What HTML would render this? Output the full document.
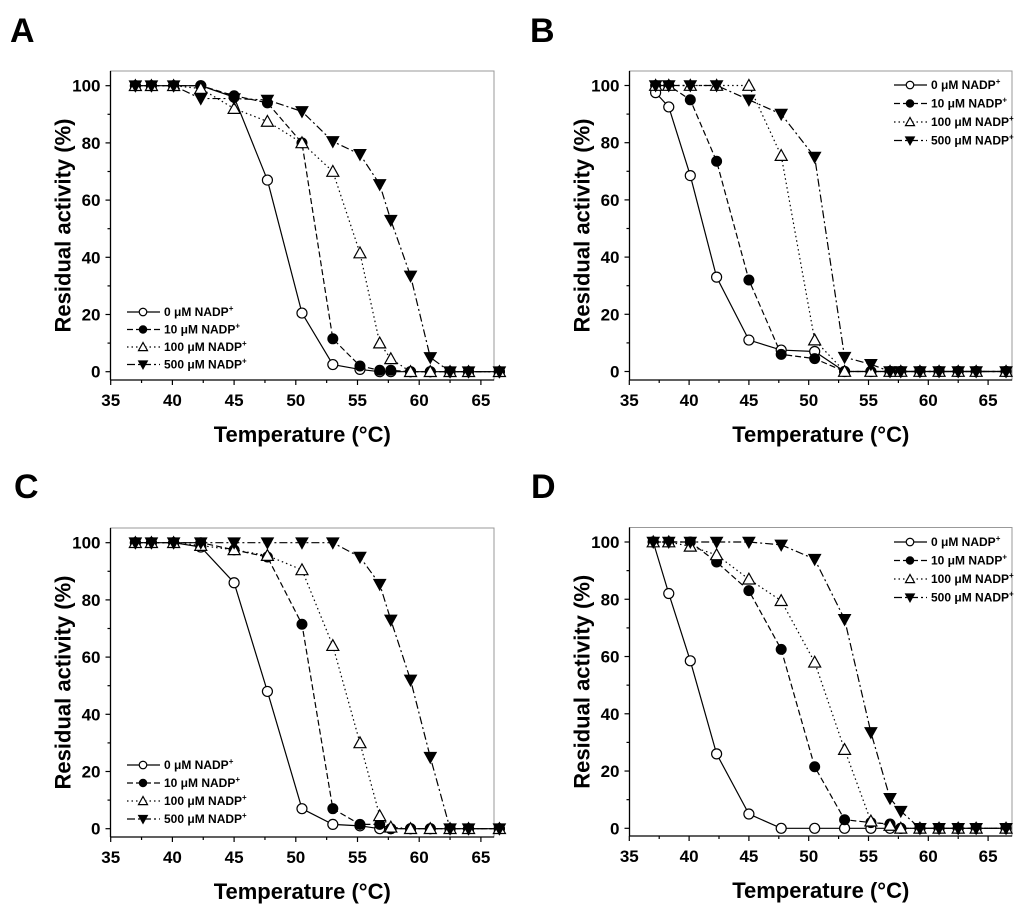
<!DOCTYPE html>
<html><head><meta charset="utf-8"><style>
html,body{margin:0;padding:0;background:#fff;}
svg{display:block;font-family:"Liberation Sans",Arial,sans-serif;}
</style></head><body>
<svg id="fig" width="1024" height="914" viewBox="0 0 1024 914"></svg>
<script>
const temps = [37,38.3,40.1,42.3,45,47.7,50.5,53,55.2,56.8,57.7,59.3,60.9,62.5,64,66.5];
const seriesNames = ["0 μM NADP","10 μM NADP","100 μM NADP","500 μM NADP"];
const xTicks = [35,40,45,50,55,60,65];
const yTicks = [0,20,40,60,80,100];
const a0 = [100,100,100,100,96,67,20.5,2.5,0.8,0,0,0,0,0,0,0];
const a10 = [100,100,100,100,96.5,94,80,11.5,2,0.5,0.5,0,0,0,0,0];
const a100 = [100,100,100,99,92,87.5,80,70,41.5,10,4.5,0,0,0,0,0];
const a500 = [100,100,100,95.5,95.5,95,91,80.5,76,65.5,53,33.5,5,0,0,0];
const bTemps = [37.2,38.3,40.1,42.3,45,47.7,50.5,53,55.2,56.8,57.7,59.3,60.9,62.5,64,66.5];
const b0 = [97.5,92.5,68.5,33,11,7.5,7,0,0,0,0,0,0,0,0,0];
const b10 = [100,100,95,73.5,32,6,4.5,0,0,0,0,0,0,0,0,0];
const b100 = [100,100,100,100,100,75.5,11,0,0,0,0,0,0,0,0,0];
const b500 = [100,100,100,100,95,90,75,5,2.5,0,0,0,0,0,0,0];
const c0 = [100,100,100,98.5,86,48,7,1.5,1,0,0,0,0,0,0,0];
const c10 = [100,100,100,100,97.5,95,71.5,7,1.5,1.5,0,0,0,0,0,0];
const c100 = [100,100,100,99,97.5,95.5,90.5,64,30,4.5,0.5,0,0,0,0,0];
const c500 = [100,100,100,100,100,100,100,100,95,85.5,73,52,25,0,0,0];
const d0 = [100,82,58.5,26,5,0,0,0,0,0,0,0,0,0,0,0];
const d10 = [100,100,100,93,83,62.5,21.5,3,2,1.5,0,0,0,0,0,0];
const d100 = [100,100,98.5,95.5,87,79.5,58,27.5,2.5,1,0,0,0,0,0,0];
const d500 = [100,100,100,100,100,99,94,73,33.5,10.5,6,0,0,0,0,0];

const NS="http://www.w3.org/2000/svg";
const svg=document.getElementById('fig');
function mk(tag,attrs,parent){const e=document.createElementNS(NS,tag);for(const k in attrs)e.setAttribute(k,attrs[k]);(parent||svg).appendChild(e);return e;}
const dashes=["none","6,3","1.5,3","8,3,2,3"];

function marker(g,kind,x,y,s){
  let e;
  if(kind===0){e=mk('circle',{cx:x,cy:y,r:5*s,fill:'#fff',stroke:'#000','stroke-width':1.2},g);}
  else if(kind===1){e=mk('circle',{cx:x,cy:y,r:5*s,fill:'#000',stroke:'#000','stroke-width':1},g);}
  else if(kind===2){const h=6*s;e=mk('polygon',{points:`${x},${y-h} ${x-h},${y+h*0.8} ${x+h},${y+h*0.8}`,fill:'#fff',stroke:'#000','stroke-width':1.2},g);}
  else {const h=6*s;e=mk('polygon',{points:`${x-h},${y-h*0.8} ${x+h},${y-h*0.8} ${x},${y+h}`,fill:'#000',stroke:'#000','stroke-width':1},g);}
  return e;
}

function panel(cfg){
  const g=mk('g',{});
  
  
  const X=t=>cfg.x35+(t-35)*cfg.kx;
  const Y=v=>cfg.y0-(v)*(cfg.y0-cfg.y100)/100;
  const lt=mk('text',{x:cfg.letX,y:cfg.letY,'font-size':34,'font-weight':'bold'},g);lt.textContent=cfg.letter;
  
  
  const box=mk('rect',{x:cfg.L,y:cfg.T,width:cfg.R-cfg.L,height:cfg.B-cfg.T,fill:'none',stroke:'#999','stroke-width':1},g);
  
  
  mk('line',{x1:cfg.L,y1:cfg.T,x2:cfg.L,y2:cfg.B,stroke:'#000','stroke-width':1.3},g);
  mk('line',{x1:cfg.L,y1:cfg.B,x2:cfg.R,y2:cfg.B,stroke:'#000','stroke-width':1.3},g);
  for(let t=35;t<=66.6;t+=2.5){const x=X(t);const maj=(t%5===0);mk('line',{x1:x,y1:cfg.B,x2:x,y2:cfg.B+(maj?5:3),stroke:'#000','stroke-width':1.2},g);}
  xTicks.forEach(t=>{const e=mk('text',{x:X(t),y:cfg.B+26,'font-size':17,'font-weight':'bold','text-anchor':'middle'},g);e.textContent=t;
    
    });
  for(let v=0;v<=100;v+=10){const y=Y(v);const maj=(v%20===0);mk('line',{x1:cfg.L,y1:y,x2:cfg.L-(maj?5:3),y2:y,stroke:'#000','stroke-width':1.2},g);}
  yTicks.forEach(v=>{const e=mk('text',{x:cfg.L-10,y:Y(v)+6,'font-size':17,'font-weight':'bold','text-anchor':'end'},g);e.textContent=v;
    
    });
  const xt=mk('text',{x:(cfg.L+cfg.R)/2,y:cfg.B+62,'font-size':22,'font-weight':'bold','text-anchor':'middle'},g);xt.textContent='Temperature (°C)';
  
  
  const yc=(cfg.T+cfg.B)/2;
  const yt=mk('text',{x:cfg.L-48,y:yc,'font-size':22,'font-weight':'bold','text-anchor':'middle',transform:`rotate(-90 ${cfg.L-48} ${yc})`,dy:8},g);yt.textContent='Residual activity (%)';
  
  
  cfg.series.forEach((vals,si)=>{
    const pts=vals.map((v,i)=>[X(cfg.temps[i]),Y(v)]);
    const p=mk('polyline',{points:pts.map(q=>q.join(',')).join(' '),fill:'none',stroke:'#000','stroke-width':1.2,'stroke-dasharray':dashes[si]},g);
    
    
  });
  cfg.series.forEach((vals,si)=>{
    vals.forEach((v,i)=>{const m=marker(g,si,X(cfg.temps[i]),Y(v),1);
      
      });
  });
  const lg=mk('g',{},g);
  
  
  seriesNames.forEach((n,i)=>{
    const y=cfg.legY+i*cfg.legDy;
    mk('line',{x1:cfg.legX,y1:y,x2:cfg.legX+33,y2:y,stroke:'#000','stroke-width':1.2,'stroke-dasharray':dashes[i]},lg);
    marker(lg,i,cfg.legX+16,y,0.75);
    const t=mk('text',{x:cfg.legX+37,y:y+4,'font-size':12,'font-weight':'bold'},lg);
    t.textContent=n;
    const sup=mk('tspan',{'font-size':8,dy:-5},t);sup.textContent='+';
    
    
  });
}
const left={x35:110.7,kx:12.34,L:110.5,R:494,legX:127};
const right={x35:629.3,kx:11.96,L:629.5,R:1012,legX:894};
panel(Object.assign({},left,{letter:'A',letX:10,temps:temps,series:[a0,a10,a100,a500],y100:85.7,y0:371.7,T:71,B:380,letY:42,legY:312,legDy:17.5}));
panel(Object.assign({},right,{letter:'B',letX:530,temps:bTemps,series:[b0,b10,b100,b500],y100:85.5,y0:371.5,T:71,B:380,letY:42,legY:85,legDy:18.5}));
panel(Object.assign({},left,{letter:'C',letX:14,temps:temps,series:[c0,c10,c100,c500],y100:542.7,y0:828.7,T:528,B:837,letY:498,legY:765,legDy:18}));
panel(Object.assign({},right,{letter:'D',letX:531,temps:temps,series:[d0,d10,d100,d500],y100:542,y0:828.3,T:527.5,B:836,letY:498,legY:542,legDy:18.5}));
</script>
</body></html>
